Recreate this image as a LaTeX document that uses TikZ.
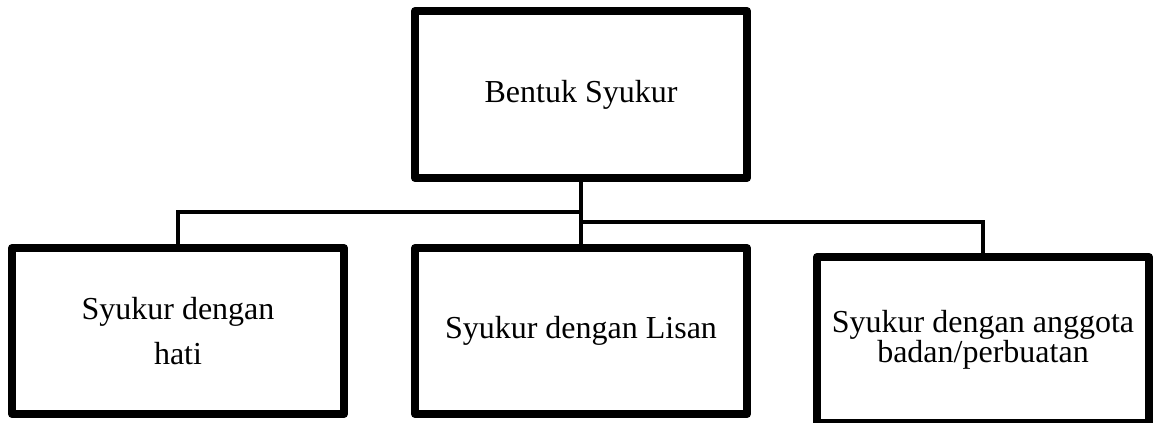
\documentclass[tikz,border=0pt]{standalone}
\usepackage{fontspec}
\setmainfont{Liberation Serif}
\begin{document}
\begin{tikzpicture}[x=1pt,y=-1pt,
  box/.style={draw=black, line width=8pt, line join=round, fill=white,
    minimum width=332pt, minimum height=166pt, align=center, inner sep=0pt,
    font=\fontsize{32}{45}\selectfont},
  conn/.style={draw=black, line width=4.5pt}]
\useasboundingbox (0,0) rectangle (1154,423);
\node[box, minimum height=167pt] (top) at (581,94.5) {Bentuk Syukur};
\node[box] (left) at (178,331) {Syukur dengan\\hati};
\node[box] (mid) at (581,331) {Syukur dengan Lisan};
\node[box, minimum height=166pt, font=\fontsize{32}{30}\selectfont] (right) at (983,340) {Syukur dengan anggota\\badan/perbuatan};
\coordinate (jl) at (581,212);
\coordinate (jr) at (581,222);
\draw[conn] (top.south) -- (mid.north);
\draw[conn] (jl) -| (left.north);
\draw[conn] (jr) -| (right.north);
\end{tikzpicture}
\end{document}
